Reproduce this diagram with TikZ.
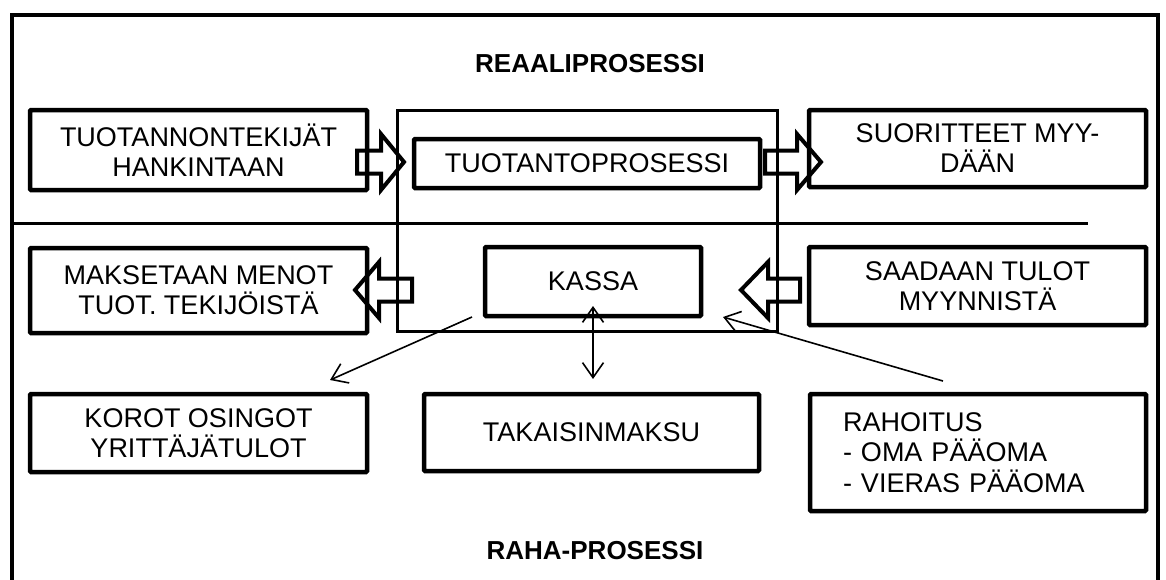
\documentclass[tikz,border=0pt]{standalone}
\usepackage{fontspec}
\setmainfont{Liberation Sans}
\usetikzlibrary{arrows.meta}
\newcommand\boxfont{\fontsize{27}{30}\selectfont}
\newcommand\titlefont{\fontsize{26}{30}\selectfont\bfseries}
\begin{document}
\begin{tikzpicture}[x=1pt,y=-1pt,
  box/.style={draw, line width=4.5pt, inner sep=0pt, align=center, font=\boxfont, rounded corners=1pt},
  fatline/.style={draw, line width=4pt, line join=miter},
  thinline/.style={line width=1.6pt},
  barb/.tip={Straight Barb[length=15pt,width=21pt]},
  pics/fatarrow/.style n args={2}{code={
    \draw[fatline] (0,-11.5) -- (#1,-11.5) -- (#1,-28) -- (#1+#2,0)
      -- (#1,28) -- (#1,11.5) -- (0,11.5) -- cycle;}}
]
\useasboundingbox (0,0) rectangle (1166,579);
\clip (0,0) rectangle (1166,579);

% outer frame, open at the bottom edge of the page
\draw[line width=4.5pt] (12,600) -- (12,15) -- (1158,15) -- (1158,600);

% titles
\node[font=\titlefont] (reaali) at (590,64) {REAALIPROSESSI};
\node[font=\titlefont] (raha) at (595,551) {RAHA-PROSESSI};

% the firm: production and cash
\draw[line width=3pt] (397,110) rectangle (777,331);

% separator between the two processes
\draw[line width=3pt] (12,223) -- (1088,223);

% boxes
\node[box, minimum width=337pt, minimum height=80pt] (tuo) at (198.5,150)
  {TUOTANNONTEKIJÄT\\HANKINTAAN};
\node[box, minimum width=346pt, minimum height=49pt] (tp) at (587,163.5)
  {TUOTANTOPROSESSI};
\node[box, minimum width=337pt, minimum height=77pt] (suo) at (977.5,148.5)
  {SUORITTEET MYY-\\DÄÄN};
\node[box, minimum width=337pt, minimum height=85pt] (mak) at (198.5,290.5)
  {MAKSETAAN MENOT\\TUOT. TEKIJÖISTÄ};
\node[box, minimum width=216pt, minimum height=69pt] (kassa) at (593,281.5)
  {KASSA};
\node[box, minimum width=337pt, minimum height=78pt] (saa) at (977.5,286)
  {SAADAAN TULOT\\MYYNNISTÄ};
\node[box, minimum width=337pt, minimum height=78pt] (korot) at (198.5,433)
  {KOROT OSINGOT\\YRITTÄJÄTULOT};
\node[box, minimum width=335pt, minimum height=77pt] (tak) at (591.5,432.5)
  {TAKAISINMAKSU};
\node[box, minimum width=336pt, minimum height=117pt, text width=270pt,
  align=left, font=\fontsize{27}{30.5}\selectfont] (rah) at (978,452.5)
  {RAHOITUS\\- OMA PÄÄOMA\\- VIERAS PÄÄOMA};

% hollow block arrows
\pic at (357,162) {fatarrow={24}{23}};
\pic at (765,162) {fatarrow={32}{24}};
\pic[rotate=180] at (412,290) {fatarrow={33}{24}};
\pic[rotate=180] at (800,290) {fatarrow={32}{27}};

% money flows around the cash
\coordinate (kassaout) at (472,317);
\coordinate (korotin) at (330,380);
\coordinate (kassamid) at (593,306);
\coordinate (takin) at (593,379);
\coordinate (rahout) at (943,381);
\coordinate (kassain) at (723,317);
\draw[thinline, -barb] (kassaout) -- (korotin);
\draw[thinline, barb-barb] (kassamid) -- (takin);
\draw[thinline, -barb] (rahout) -- (kassain);
\end{tikzpicture}
\end{document}
